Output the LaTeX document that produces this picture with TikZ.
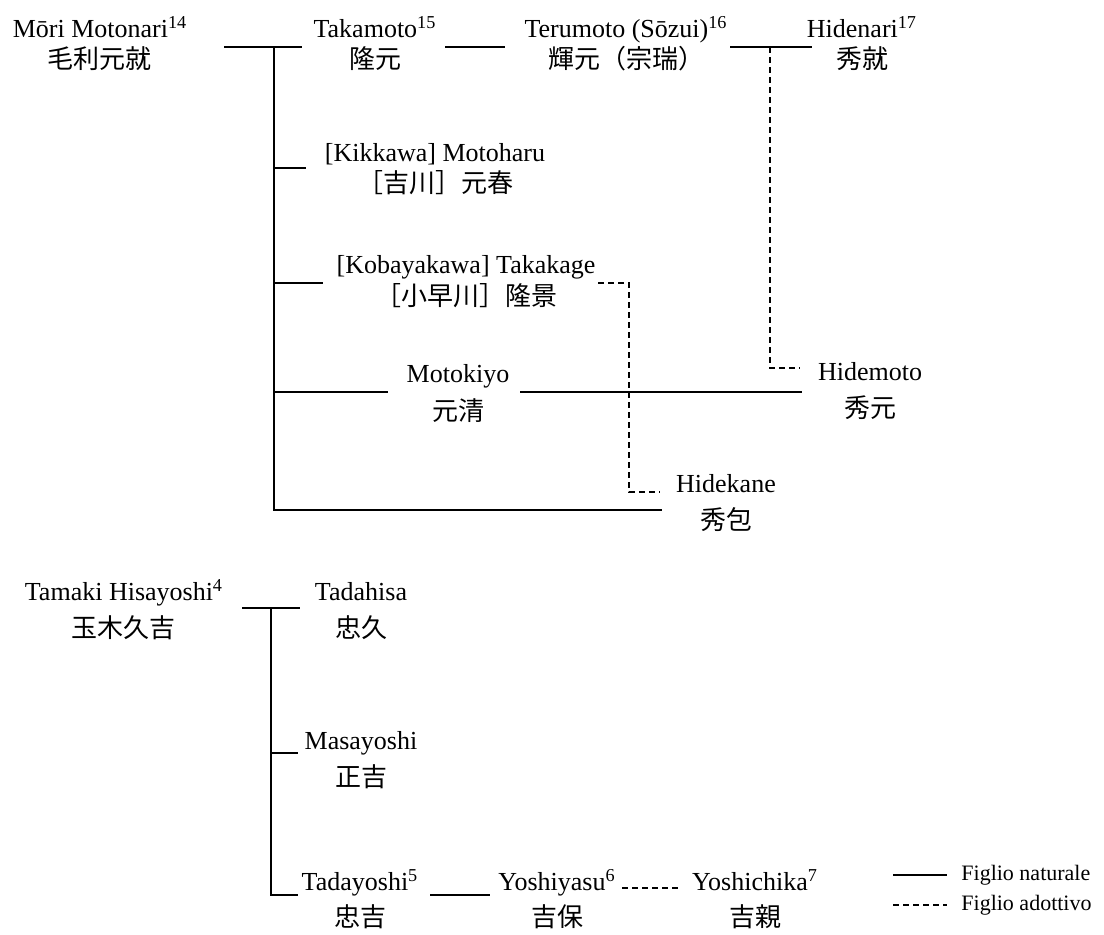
\documentclass[tikz,border=0pt]{standalone}
\usepackage{fontspec}
\setmainfont{Liberation Serif}
\newfontfamily\cjk{Noto Sans CJK JP}
\newcommand{\pname}[3]{#1\\[#3]{\cjk #2}}
\begin{document}
\begin{tikzpicture}[x=0.5pt,y=-0.5pt,
  person/.style={align=center, inner sep=0pt, anchor=base, font=\fontsize{13}{15.5}\selectfont},
  legendtext/.style={anchor=base west, inner sep=0pt, font=\fontsize{11}{12}\selectfont},
  rel/.style={line width=0.8pt},
  adopt/.style={line width=0.8pt, dash pattern=on 3pt off 2pt}]
\useasboundingbox (0,0) rectangle (1104,934);

% persons (placed at the baseline of the last, Japanese line)
\node[person] (mori)  at (100,68)  {\pname{Mōri Motonari\textsuperscript{14}}{毛利元就}{0pt}};
\node[person] (taka)  at (375,68)  {\pname{Takamoto\textsuperscript{15}}{隆元}{0pt}};
\node[person] (teru)  at (626,68)  {\pname{Terumoto (Sōzui)\textsuperscript{16}}{輝元（宗瑞）}{0pt}};
\node[person] (hide)  at (862,68)  {\pname{Hidenari\textsuperscript{17}}{秀就}{0pt}};
\node[person] (kikk)  at (435,192) {\pname{[Kikkawa] Motoharu}{［吉川］元春}{0pt}};
\node[person] (koba)  at (466,305) {\pname{[Kobayakawa] Takakage}{［小早川］隆景}{0.5pt}};
\node[person] (moki)  at (458,420) {\pname{Motokiyo}{元清}{3.5pt}};
\node[person] (hmoto) at (870,417) {\pname{Hidemoto}{秀元}{3pt}};
\node[person] (hkane) at (726,529) {\pname{Hidekane}{秀包}{3pt}};
\node[person] (tama)  at (124,637) {\pname{Tamaki Hisayoshi\textsuperscript{4}}{玉木久吉}{3pt}};
\node[person] (tadah) at (361,637) {\pname{Tadahisa}{忠久}{3pt}};
\node[person] (masa)  at (361,786) {\pname{Masayoshi}{正吉}{3pt}};
\node[person] (tadyo) at (360,926) {\pname{Tadayoshi\textsuperscript{5}}{忠吉}{2.5pt}};
\node[person] (yyasu) at (557,926) {\pname{Yoshiyasu\textsuperscript{6}}{吉保}{2.5pt}};
\node[person] (ychik) at (755,926) {\pname{Yoshichika\textsuperscript{7}}{吉親}{2.5pt}};

% legend
\node[legendtext] (lnat) at (961,880) {Figlio naturale};
\node[legendtext] (ladp) at (961,910) {Figlio adottivo};
\coordinate (lnA) at (893,875); \coordinate (lnB) at (947,875);
\coordinate (laA) at (893,905); \coordinate (laB) at (947,905);
\draw[rel] (lnA) -- (lnB);
\draw[adopt] (laA) -- (laB);

% Mori family connectors
\coordinate (m0) at (224,47);  \coordinate (m1) at (302,47);
\coordinate (mv) at (274,47);  \coordinate (mb) at (274,510); \coordinate (mk) at (662,510);
\coordinate (k1) at (274,168); \coordinate (k2) at (306,168);
\coordinate (b1) at (274,283); \coordinate (b2) at (323,283);
\coordinate (c1) at (274,392); \coordinate (c2) at (388,392);
\coordinate (c3) at (520,392); \coordinate (c4) at (802,392);
\coordinate (t1) at (445,47);  \coordinate (t2) at (505,47);
\coordinate (r1) at (730,47);  \coordinate (r2) at (812,47);
\coordinate (rd) at (770,47);  \coordinate (rc) at (770,368); \coordinate (re) at (800,368);
\coordinate (kd) at (598,283); \coordinate (kc) at (629,283);
\coordinate (kb) at (629,492); \coordinate (ke) at (660,492);

\draw[rel] (m0) -- (m1);
\draw[rel] (mv) -- (mb) -- (mk);
\draw[rel] (k1) -- (k2);
\draw[rel] (b1) -- (b2);
\draw[rel] (c1) -- (c2);
\draw[rel] (c3) -- (c4);
\draw[rel] (t1) -- (t2);
\draw[rel] (r1) -- (r2);
\draw[adopt] (rd) -- (rc) -- (re);
\draw[adopt] (kd) -- (kc) -- (kb) -- (ke);

% Tamaki family connectors
\coordinate (s0) at (242,608); \coordinate (s1) at (300,608);
\coordinate (sv) at (271,608); \coordinate (sb) at (271,895); \coordinate (se) at (298,895);
\coordinate (q1) at (271,753); \coordinate (q2) at (298,753);
\coordinate (y1) at (430,895); \coordinate (y2) at (490,895);
\coordinate (z1) at (622,888); \coordinate (z2) at (680,888);

\draw[rel] (s0) -- (s1);
\draw[rel] (sv) -- (sb) -- (se);
\draw[rel] (q1) -- (q2);
\draw[rel] (y1) -- (y2);
\draw[adopt] (z1) -- (z2);
\end{tikzpicture}
\end{document}
